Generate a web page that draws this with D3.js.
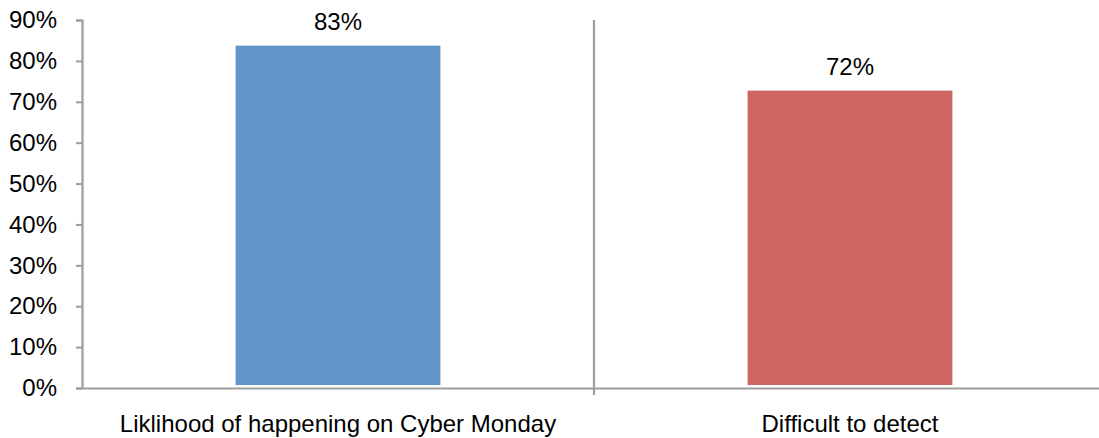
<!DOCTYPE html>
<html><head><meta charset="utf-8">
<script src="https://cdn.jsdelivr.net/npm/d3@7"></script>
<style>body{margin:0;background:#fff}svg{display:block;font-family:"Liberation Sans",Arial,sans-serif}</style>
</head><body>
<svg id="c" width="1099" height="438"></svg>
<script>
const categories = ["Liklihood of happening on Cyber Monday", "Difficult to detect"];
const values = [83, 72];
const labels = ["83%", "72%"];
const colors = ["#6295C9", "#CD6660"];
const yTicks = [0,10,20,30,40,50,60,70,80,90];

(function(){
const svg = d3.select("#c");
const mLeft = 82, mRight = 1106, mTop = 20, mBottom = 388;
const fs = 24;
const x = d3.scaleBand().domain(categories).range([mLeft, mRight]).paddingInner(0).paddingOuter(0);
const y = d3.scaleLinear().domain([0, 90]).range([mBottom, mTop]);
const barW = x.bandwidth() * 0.4;
const grey = "#9d9d9d";

svg.selectAll("rect.bar").data(categories).join("rect")
  .attr("x", d => x(d) + (x.bandwidth() - barW) / 2)
  .attr("y", (d, i) => y(values[i]) - 3)
  .attr("width", barW)
  .attr("height", (d, i) => y(0) - y(values[i]))
  .attr("fill", (d, i) => colors[i]);

svg.selectAll("text.val").data(categories).join("text")
  .attr("x", d => x(d) + x.bandwidth() / 2)
  .attr("y", (d, i) => y(values[i]) - 18.5)
  .attr("text-anchor", "middle")
  .attr("font-size", fs)
  .attr("fill", "#000")
  .text((d, i) => labels[i]);

const ya = svg.append("g").attr("transform", `translate(${mLeft},0)`)
  .call(d3.axisLeft(y).tickValues(yTicks).tickFormat(d => d + "%").tickSize(6).tickSizeOuter(6));
ya.select(".domain").attr("stroke", grey).attr("stroke-width", 2.2);
ya.selectAll(".tick line").attr("stroke", grey).attr("stroke-width", 2);
ya.selectAll(".tick text").attr("font-size", fs).attr("fill", "#000").attr("x", -25)
  .attr("font-family", "'Liberation Sans',Arial,sans-serif");

const xa = svg.append("g").attr("transform", `translate(0,${mBottom})`)
  .call(d3.axisBottom(x).tickSize(0).tickSizeOuter(0));
xa.select(".domain").attr("stroke", grey).attr("stroke-width", 2.2);
xa.selectAll(".tick text").attr("font-size", fs).attr("fill", "#000").attr("dy", 0).attr("y", 44)
  .attr("font-family", "'Liberation Sans',Arial,sans-serif");

const seps = categories.slice(1).map(c => x(c));
svg.selectAll("line.sep").data(seps).join("line")
  .attr("x1", d => d).attr("x2", d => d)
  .attr("y1", mTop).attr("y2", mBottom + 7)
  .attr("stroke", grey).attr("stroke-width", 2.2);
})();
</script>
</body></html>
